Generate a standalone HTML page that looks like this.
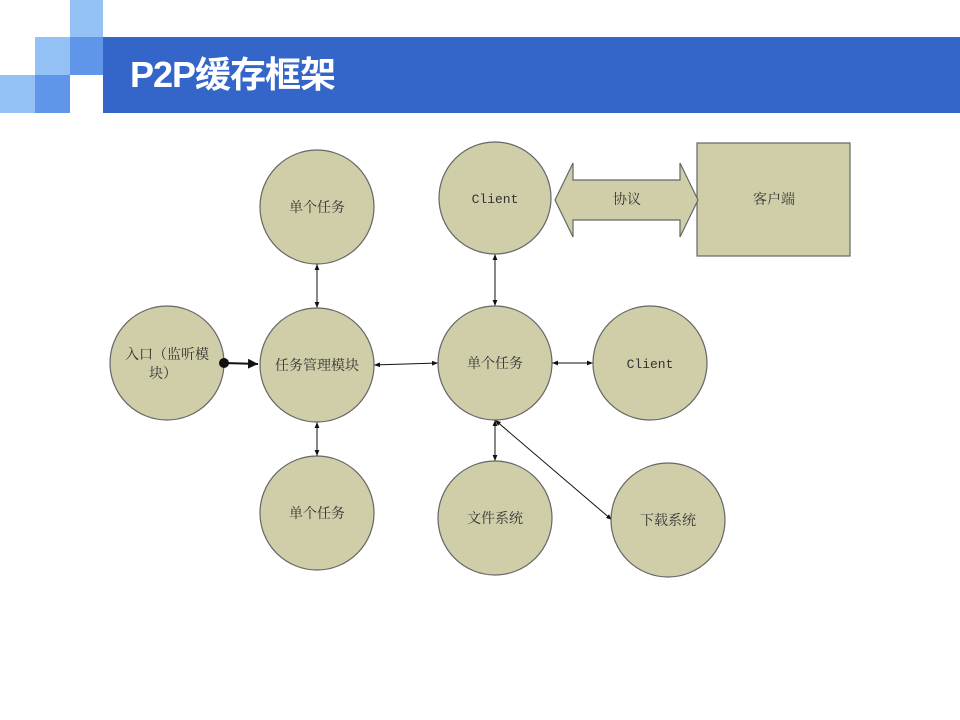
<!DOCTYPE html>
<html><head><meta charset="utf-8"><style>
body{margin:0;width:960px;height:720px;background:#fff;overflow:hidden;position:relative;font-family:"Liberation Sans","Noto Sans CJK SC",sans-serif}
.sq{position:absolute}
</style></head><body>
<div class="sq" style="left:70px;top:0;width:33px;height:37px;background:#93c0f5"></div>
<div class="sq" style="left:35px;top:37px;width:35px;height:38px;background:#93c0f5"></div>
<div class="sq" style="left:70px;top:37px;width:33px;height:38px;background:#5f96ea"></div>
<div class="sq" style="left:0;top:75px;width:35px;height:38px;background:#93c0f5"></div>
<div class="sq" style="left:35px;top:75px;width:35px;height:38px;background:#5f96ea"></div>
<div class="sq" style="left:103px;top:37px;width:857px;height:76px;background:#3465c8"></div>
<div style="position:absolute;left:130px;top:52px;color:#fff;font-size:36px;font-weight:bold;line-height:46px;letter-spacing:-1px">P2P缓存框架</div>
<svg width="960" height="720" style="position:absolute;left:0;top:0" font-family="Liberation Serif,Noto Serif CJK SC,serif" font-size="14" fill="#333">
<defs><marker id="a" viewBox="0 0 10 10" refX="10" refY="5" markerWidth="6" markerHeight="6" orient="auto-start-reverse"><path d="M0,1L10,5L0,9z" fill="#111"/></marker>
<marker id="b" viewBox="0 0 10 10" refX="10" refY="5" markerWidth="5" markerHeight="5" orient="auto"><path d="M0,0L10,5L0,10z" fill="#111"/></marker></defs>
<g stroke="#111" stroke-width="1">
<line x1="317" y1="264" x2="317" y2="308" marker-start="url(#a)" marker-end="url(#a)"/>
<line x1="317" y1="422" x2="317" y2="456" marker-start="url(#a)" marker-end="url(#a)"/>
<line x1="374" y1="365" x2="438" y2="363" marker-start="url(#a)" marker-end="url(#a)"/>
<line x1="495" y1="254" x2="495" y2="306" marker-start="url(#a)" marker-end="url(#a)"/>
<line x1="552" y1="363" x2="593" y2="363" marker-start="url(#a)" marker-end="url(#a)"/>
<line x1="495" y1="420" x2="495" y2="461" marker-start="url(#a)" marker-end="url(#a)"/>
<line x1="495" y1="420" x2="612" y2="520" marker-start="url(#a)" marker-end="url(#a)"/>
<line x1="224" y1="363" x2="258" y2="364" stroke-width="2" marker-end="url(#b)"/>
</g>
<g fill="#cfcea8" stroke="#666" stroke-width="1.2">
<circle cx="317" cy="207" r="57"/><circle cx="495" cy="198" r="56"/>
<circle cx="167" cy="363" r="57"/><circle cx="317" cy="365" r="57"/>
<circle cx="495" cy="363" r="57"/><circle cx="650" cy="363" r="57"/>
<circle cx="317" cy="513" r="57"/><circle cx="495" cy="518" r="57"/>
<circle cx="668" cy="520" r="57"/>
<rect x="697" y="143" width="153" height="113"/>
<path d="M555,200L573,163V180H680V163L698,200L680,237V220H573V237Z"/>
</g>
<circle cx="224" cy="363" r="5" fill="#111"/>
<g text-anchor="middle">
<text x="317" y="212">单个任务</text>
<text x="495" y="203" font-family="Liberation Mono,monospace" font-size="13">Client</text>
<text x="627" y="204">协议</text>
<text x="774" y="204">客户端</text>
<text x="167" y="359">入口（监听模</text>
<text x="163" y="378">块）</text>
<text x="317" y="370">任务管理模块</text>
<text x="495" y="368">单个任务</text>
<text x="650" y="368" font-family="Liberation Mono,monospace" font-size="13">Client</text>
<text x="317" y="518">单个任务</text>
<text x="495" y="523">文件系统</text>
<text x="668" y="525">下载系统</text>
</g>
</svg>
</body></html>
